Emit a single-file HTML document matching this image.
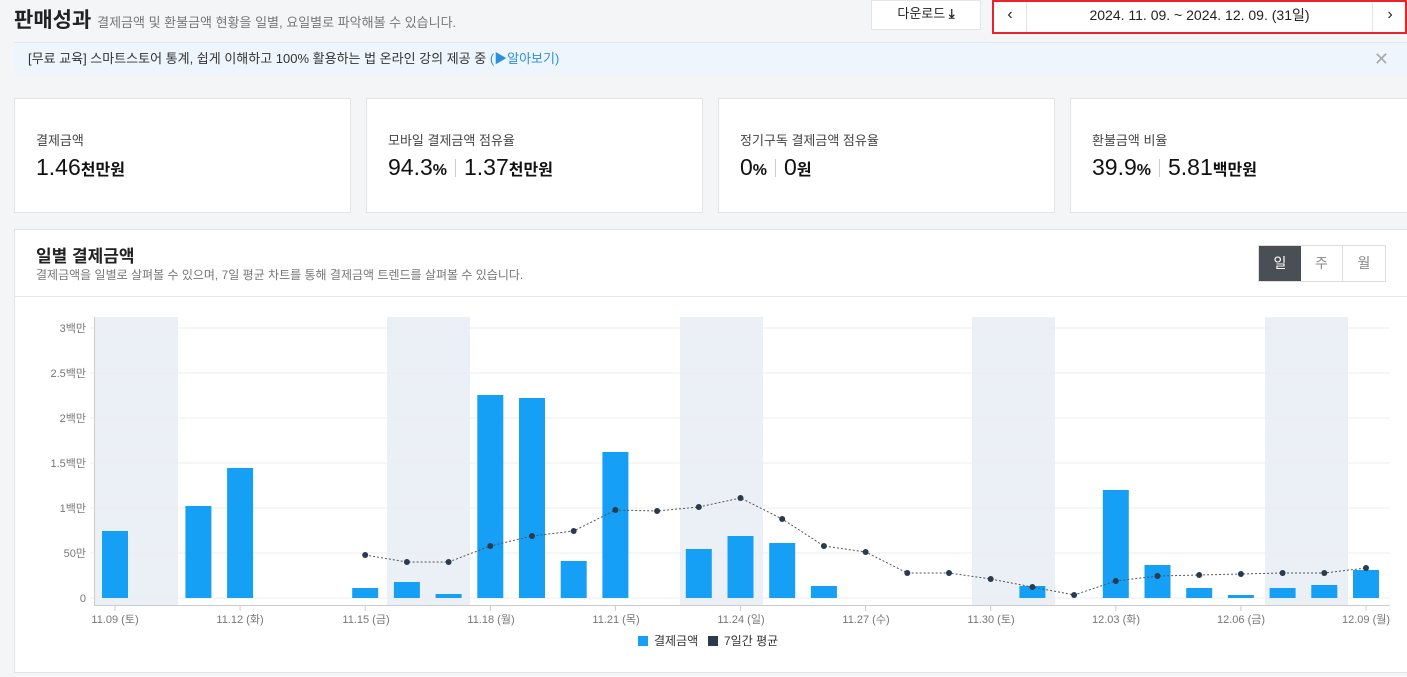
<!DOCTYPE html>
<html><head><meta charset="utf-8"><style>
*{box-sizing:border-box;margin:0;padding:0}
body{width:1407px;height:677px;background:#f4f5f7;font-family:"Liberation Sans","Noto Sans CJK KR",sans-serif;color:#222;position:relative;overflow:hidden}
.abs{position:absolute}
.card{position:absolute;top:98px;height:115px;background:#fff;border:1px solid #e2e4e8}
.card .t{position:absolute;left:21px;top:31px;font-size:13px;color:#444}
.card .v{position:absolute;left:21px;top:55px;font-size:23px;color:#111;white-space:nowrap}
.card .v small{font-size:16px;font-weight:bold}
.sep{display:inline-block;width:1px;height:18px;background:#ccc;margin:0 8px;vertical-align:-2px}
</style></head><body>
<div class="abs" style="left:14px;top:4px;font-size:21px;font-weight:bold">판매성과 <span style="font-size:13px;font-weight:normal;color:#777">결제금액 및 환불금액 현황을 일별, 요일별로 파악해볼 수 있습니다.</span></div>
<div class="abs" style="left:871px;top:0;width:110px;height:30px;background:#fff;border:1px solid #e2e4e8;font-size:13px;text-align:center;line-height:26px">다운로드 <b>⤓</b></div>
<div class="abs" style="left:992px;top:0;width:415px;height:34px;background:#fff;border:2px solid #e8232a">
 <div class="abs" style="left:0;top:0;width:33px;height:30px;border-right:1px solid #e2e4e8;text-align:center;line-height:26px;font-size:16px">‹</div>
 <div class="abs" style="left:33px;width:345px;top:0;text-align:center;line-height:26px;font-size:14px">2024. 11. 09. ~ 2024. 12. 09. (31일)</div>
 <div class="abs" style="left:378px;top:0;width:35px;height:30px;border-left:1px solid #e2e4e8;text-align:center;line-height:26px;font-size:16px">›</div>
</div>
<div class="abs" style="left:14px;top:42px;width:1393px;height:32px;background:#eef5fc;border-top:1px solid #e3e9f0;font-size:13px;line-height:32px;padding-left:14px;color:#333">[무료 교육] 스마트스토어 통계, 쉽게 이해하고 100% 활용하는 법 온라인 강의 제공 중 <span style="color:#2b8fe0">(▶알아보기)</span><span class="abs" style="right:18px;top:0;color:#aaa;font-size:18px">✕</span></div>
<div class="card" style="left:14px;width:337px"><div class="t">결제금액</div><div class="v">1.46<small>천만원</small></div></div>
<div class="card" style="left:366px;width:337px"><div class="t">모바일 결제금액 점유율</div><div class="v">94.3<small>%</small><span class="sep"></span>1.37<small>천만원</small></div></div>
<div class="card" style="left:718px;width:337px"><div class="t">정기구독 결제금액 점유율</div><div class="v">0<small>%</small><span class="sep"></span>0<small>원</small></div></div>
<div class="card" style="left:1070px;width:340px"><div class="t">환불금액 비율</div><div class="v">39.9<small>%</small><span class="sep"></span>5.81<small>백만원</small></div></div>
<div class="abs" style="left:14px;top:229px;width:1396px;height:444px;background:#fff;border:1px solid #e2e4e8">
 <div class="abs" style="left:21px;top:12px;font-size:17px;font-weight:bold">일별 결제금액</div>
 <div class="abs" style="left:21px;top:36px;font-size:12px;color:#777">결제금액을 일별로 살펴볼 수 있으며, 7일 평균 차트를 통해 결제금액 트렌드를 살펴볼 수 있습니다.</div>
 <div class="abs" style="left:1243px;top:15px;width:128px;height:37px;border:1px solid #ddd;font-size:14px;color:#888">
  <div class="abs" style="left:0;top:0;width:42px;height:35px;background:#4a4f56;color:#fff;text-align:center;line-height:35px">일</div>
  <div class="abs" style="left:42px;top:0;width:42px;height:35px;border-right:1px solid #ddd;text-align:center;line-height:35px">주</div>
  <div class="abs" style="left:84px;top:0;width:42px;height:35px;text-align:center;line-height:35px">월</div>
 </div>
 <div class="abs" style="left:0;top:66px;width:1396px;height:1px;background:#e8e8e8"></div>
</div>
<svg class="abs" style="left:0;top:0" width="1407" height="677" font-family="Liberation Sans, Noto Sans CJK KR, sans-serif">
<g fill="#ebf0f6">
<rect x="94" y="317" width="84" height="288"/><rect x="387" y="317" width="83" height="288"/><rect x="680" y="317" width="83" height="288"/><rect x="972" y="317" width="83" height="288"/><rect x="1265" y="317" width="83" height="288"/>
</g>
<g stroke="#ececec">
<line x1="90" x2="1390" y1="328" y2="328"/><line x1="90" x2="1390" y1="373" y2="373"/><line x1="90" x2="1390" y1="418" y2="418"/><line x1="90" x2="1390" y1="463" y2="463"/><line x1="90" x2="1390" y1="508" y2="508"/><line x1="90" x2="1390" y1="553" y2="553"/><line x1="90" x2="1390" y1="598" y2="598"/>
</g>
<line x1="94.5" x2="94.5" y1="317" y2="605" stroke="#ccc"/>
<line x1="94" x2="1390" y1="605.5" y2="605.5" stroke="#ccc"/>
<g font-size="11" fill="#777" text-anchor="end">
<text x="86" y="332">3백만</text><text x="86" y="377">2.5백만</text><text x="86" y="422">2백만</text><text x="86" y="467">1.5백만</text><text x="86" y="512">1백만</text><text x="86" y="557">50만</text><text x="86" y="602">0</text>
</g>
<g fill="#15a0f5" id="bars"></g>
<g stroke="#ccc" id="ticks"></g>
<g font-size="11" fill="#777" text-anchor="middle">
<text x="115" y="623">11.09 (토)</text><text x="240" y="623">11.12 (화)</text><text x="366" y="623">11.15 (금)</text><text x="491" y="623">11.18 (월)</text><text x="616" y="623">11.21 (목)</text><text x="741" y="623">11.24 (일)</text><text x="866" y="623">11.27 (수)</text><text x="991" y="623">11.30 (토)</text><text x="1116" y="623">12.03 (화)</text><text x="1241" y="623">12.06 (금)</text><text x="1366" y="623">12.09 (월)</text>
</g>
<polyline id="ln" fill="none" stroke="#555" stroke-width="1" stroke-dasharray="2,2"/>
<g fill="#2a3a4f" id="dots"></g>
<rect x="638" y="636" width="10" height="10" fill="#15a0f5"/><text x="654" y="645" font-size="12" fill="#333">결제금액</text>
<rect x="708" y="636" width="10" height="10" fill="#2a3a4f"/><text x="724" y="645" font-size="12" fill="#333">7일간 평균</text>
</svg>
<script>
var tops=[531,598,506,468,598,598,588,582,594,395,398,561,452,598,549,536,543,586,598,598,598,598,586,598,490,565,588,595,588,585,570];
var line=[null,null,null,null,null,null,555,562,562,546,536,531,510,511,507,498,519,546,552,573,573,579,587,595,581,576,575,574,573,573,568];
var ns="http://www.w3.org/2000/svg",b=document.getElementById('bars'),t=document.getElementById('ticks'),d=document.getElementById('dots'),pts=[];
for(var i=0;i<31;i++){var cx=115+i*41.7;
 if(tops[i]<598){var r=document.createElementNS(ns,'rect');r.setAttribute('x',cx-13);r.setAttribute('y',tops[i]);r.setAttribute('width',26);r.setAttribute('height',598-tops[i]);b.appendChild(r);}
 if(i%3==0){var l=document.createElementNS(ns,'line');l.setAttribute('x1',cx);l.setAttribute('x2',cx);l.setAttribute('y1',605);l.setAttribute('y2',611);t.appendChild(l);}
 if(line[i]){pts.push(cx+','+line[i]);var c=document.createElementNS(ns,'circle');c.setAttribute('cx',cx);c.setAttribute('cy',line[i]);c.setAttribute('r',3);d.appendChild(c);}}
document.getElementById('ln').setAttribute('points',pts.join(' '));
</script>
</body></html>
